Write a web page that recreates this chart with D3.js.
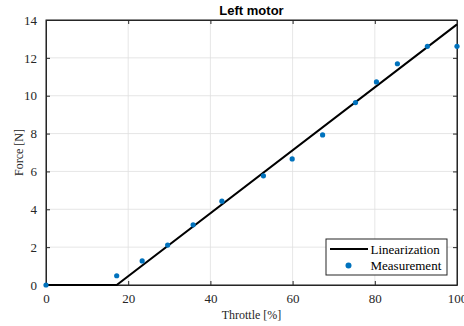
<html>
<script src='https://d3js.org/d3.v7.min.js'></script>
<style>
  body { margin: 0; background: white; }
</style>
<body>
<svg width=464 height=326></svg>
<script>
// measured throttle [%] and force [N]
const throttle = [0, 17.2, 23.4, 29.6, 35.8, 42.8, 52.9, 59.9, 67.3, 75.3, 80.4, 85.5, 92.8, 100];
const force = [0, 0.49, 1.27, 2.11, 3.18, 4.43, 5.77, 6.66, 7.93, 9.64, 10.73, 11.69, 12.61, 12.61];
// piecewise linear fit
const linThrottle = [0, 17.2, 100];
const linForce = [0, 0, 13.77];
const xTicks = [0, 20, 40, 60, 80, 100];
const yTicks = [0, 2, 4, 6, 8, 10, 12, 14];

const W = 464, H = 326;
const m = {left: 46, right: 7, top: 20, bottom: 41};
const w = W - m.left - m.right, h = H - m.top - m.bottom;
const serif = '"Liberation Serif", "Times New Roman", serif';

const svg = d3.select('svg');
const g = svg.append('g').attr('transform', 'translate(' + m.left + ',' + m.top + ')');

const x = d3.scaleLinear().domain([0, 100]).range([0, w]);
const y = d3.scaleLinear().domain([0, 14]).range([h, 0]);

// grid
g.append('g').selectAll('line').data(xTicks).enter().append('line')
  .attr('x1', d => x(d)).attr('x2', d => x(d)).attr('y1', 0).attr('y2', h)
  .attr('stroke', '#dfdfdf').attr('stroke-width', 0.8);
g.append('g').selectAll('line').data(yTicks).enter().append('line')
  .attr('y1', d => y(d)).attr('y2', d => y(d)).attr('x1', 0).attr('x2', w)
  .attr('stroke', '#dfdfdf').attr('stroke-width', 0.8);

// axes, ticks inward
g.append('g').attr('transform', 'translate(0,' + h + ')')
  .call(d3.axisBottom(x).tickValues(xTicks).tickSizeInner(-4).tickSizeOuter(0).tickPadding(9));
g.append('g')
  .call(d3.axisLeft(y).tickValues(yTicks).tickSizeInner(-4).tickSizeOuter(0).tickPadding(9));
g.append('g').call(d3.axisTop(x).tickValues(xTicks).tickSizeInner(-4).tickSizeOuter(0).tickFormat(''));
g.append('g').attr('transform', 'translate(' + w + ',0)')
  .call(d3.axisRight(y).tickValues(yTicks).tickSizeInner(-4).tickSizeOuter(0).tickFormat(''));
g.selectAll('.domain').attr('stroke', '#262626');
g.selectAll('.tick line').attr('stroke', '#262626');
g.selectAll('.tick text').attr('font-family', serif).style('font-family', serif).style('font-size', '13px').attr('fill', '#262626');
g.append('rect').attr('width', w).attr('height', h).attr('fill', 'none').attr('stroke', '#262626').attr('stroke-width', 1);

// linearization
const line = d3.line().x(d => x(d[0])).y(d => y(d[1]));
g.append('path').datum(d3.zip(linThrottle, linForce)).attr('d', line)
  .attr('fill', 'none').attr('stroke', 'black').attr('stroke-width', 2);

// measurement
g.append('g').selectAll('circle').data(d3.zip(throttle, force)).enter().append('circle')
  .attr('cx', d => x(d[0])).attr('cy', d => y(d[1])).attr('r', 2.6).attr('fill', '#0072BD');

// title and labels
svg.append('text').attr('x', m.left + w / 2).attr('y', 15).attr('text-anchor', 'middle')
  .style('font-family', '"Liberation Sans", Arial, sans-serif').style('font-weight', 'bold').style('font-size', '13px')
  .attr('fill', 'black').text('Left motor');
svg.append('text').attr('x', m.left + w / 2).attr('y', 319).attr('text-anchor', 'middle')
  .style('font-family', serif).style('font-size', '12px').attr('fill', '#262626').text('Throttle [%]');
svg.append('text').attr('transform', 'translate(23,' + (m.top + h / 2) + ') rotate(-90)').attr('text-anchor', 'middle')
  .style('font-family', serif).style('font-size', '12px').attr('fill', '#262626').text('Force [N]');

// legend
const lg = svg.append('g').attr('transform', 'translate(326,239)');
lg.append('rect').attr('width', 121).attr('height', 36).attr('fill', 'white').attr('stroke', '#262626').attr('stroke-width', 1);
lg.append('line').attr('x1', 4).attr('x2', 42).attr('y1', 10).attr('y2', 10).attr('stroke', 'black').attr('stroke-width', 2);
lg.append('circle').attr('cx', 22.5).attr('cy', 26.5).attr('r', 3).attr('fill', '#0072BD');
lg.append('text').attr('x', 44.5).attr('y', 14.5).style('font-family', serif).style('font-size', '13px').attr('fill', 'black').text('Linearization');
lg.append('text').attr('x', 44.5).attr('y', 31).style('font-family', serif).style('font-size', '13px').attr('fill', 'black').text('Measurement');
</script>
</body>
</html>
